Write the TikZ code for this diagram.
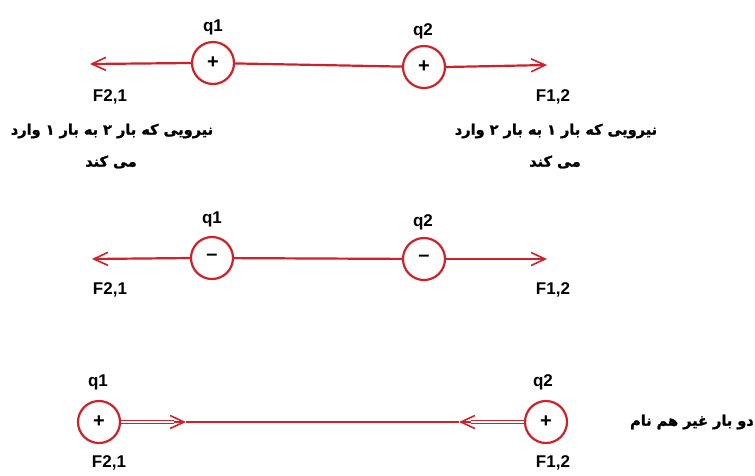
\documentclass[tikz,border=0pt]{standalone}
\usepackage{fontspec}
\setmainfont{Liberation Sans}
\newfontfamily\arabicfont[Script=Arabic,FakeBold=1.5]{DejaVu Sans Bold}
\TeXXeTstate=1
\usetikzlibrary{arrows.meta}
\definecolor{chg}{RGB}{208,32,40}
\begin{document}
\begin{tikzpicture}[x=1pt,y=-1pt,
  charge/.style={circle,draw=chg,line width=2.2pt,minimum size=42pt,inner sep=0pt,font=\fontsize{20}{20}\selectfont\bfseries},
  lbl/.style={font=\fontsize{17}{17}\selectfont\bfseries,inner sep=0pt},
  fa/.style={font=\arabicfont\fontsize{14.5}{14.5}\selectfont,inner sep=0pt},
  wire/.style={draw=chg,line width=2.2pt},
  arr/.style={wire,-{Straight Barb[length=14pt,width=13pt,line width=1.6pt]}},
  dbl/.style={draw=chg,double=white,double distance=1.4pt,line width=1.3pt}
]
\useasboundingbox (0,0) rectangle (755,475);
% row 1
\node[charge] (a1) at (213,63) {+};
\node[charge] (a2) at (424,67) {+};
\node[lbl] (a1l) at (213,27) {q1};
\node[lbl] (a2l) at (423,31) {q2};
\coordinate (a1t) at (90,64);
\coordinate (a2t) at (547,65);
\draw[wire] (a1) -- (a2);
\draw[arr] (a1.west) -- (a1t);
\draw[arr] (a2.east) -- (a2t);
\node[lbl] (f21a) at (110,97) {F2,1};
\node[lbl] (f12a) at (553,97) {F1,2};
\node[fa] (t1a) at (112,131) {\beginR نیرویی که بار ۲ به بار ۱ وارد\endR};
\node[fa] (t1b) at (111,162) {\beginR می کند\endR};
\node[fa] (t2a) at (556,131) {\beginR نیرویی که بار ۱ به بار ۲ وارد\endR};
\node[fa] (t2b) at (555,162) {\beginR می کند\endR};
% row 2
\node[charge] (b1) at (212,258) {\raisebox{1pt}{--}};
\node[charge] (b2) at (424,259) {\raisebox{1pt}{--}};
\node[lbl] (b1l) at (212,219) {q1};
\node[lbl] (b2l) at (423,222) {q2};
\coordinate (b1t) at (92,259);
\coordinate (b2t) at (547,259);
\draw[wire] (b1) -- (b2);
\draw[arr] (b1.west) -- (b1t);
\draw[arr] (b2.east) -- (b2t);
\node[lbl] (f21b) at (110,290) {F2,1};
\node[lbl] (f12b) at (553,290) {F1,2};
% row 3
\node[charge] (c1) at (99,422) {+};
\node[charge] (c2) at (546,422) {+};
\node[lbl] (c1l) at (98,382) {q1};
\node[lbl] (c2l) at (543,382) {q2};
\coordinate (c1t) at (186,422);
\coordinate (c2t) at (459,422);
\coordinate (c1s) at (174,422);
\coordinate (c2s) at (471,422);
\draw[dbl] (c1.east) -- (c1s);
\draw[dbl] (c2.west) -- (c2s);
\draw[arr] (c1s) -- (c1t);
\draw[arr] (c2s) -- (c2t);
\draw[wire] (c1t) -- (c2t);
\node[lbl] (f21c) at (109,463) {F2,1};
\node[lbl] (f12c) at (553,463) {F1,2};
\node[fa] (t3) at (692,422) {\beginR دو بار غیر هم نام\endR};
\end{tikzpicture}
\end{document}
